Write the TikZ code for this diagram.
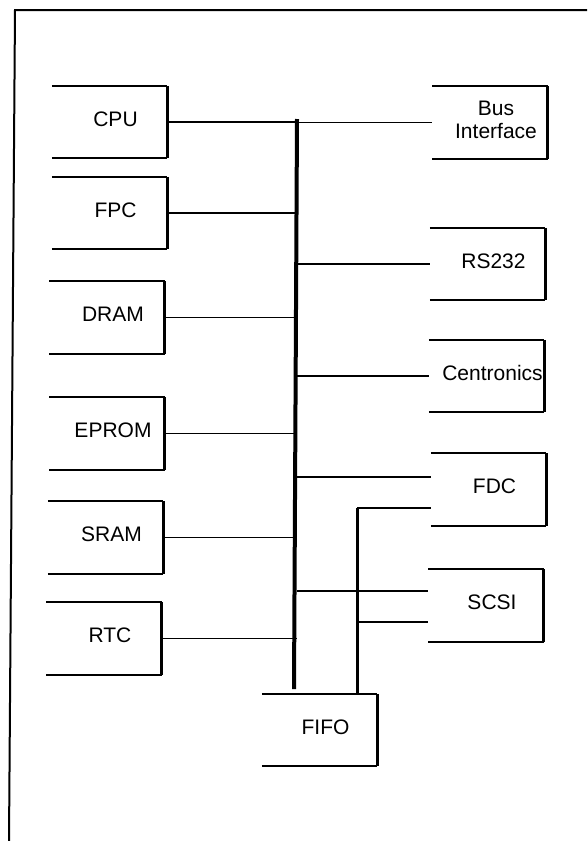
\documentclass[tikz,border=0pt]{standalone}
\usepackage{fontspec}
\setmainfont{Liberation Sans}
\begin{document}
\begin{tikzpicture}[x=1pt,y=-1pt,
  unit/.style={minimum width=115pt, minimum height=72pt, inner sep=0pt},
  boxtext/.style={font=\fontsize{21}{23}\selectfont, xshift=6pt, yshift=3pt, inner sep=0pt},
  wire/.style={line width=1.8pt},
  rim/.style={line width=2pt},
  busline/.style={line width=4pt}]
  \useasboundingbox (0,0) rectangle (587,841);
  % Frame
  \draw[rim] (9,841) -- (15,10) -- (587,10);
  % Left column
  \node[unit, label={[boxtext]center:CPU}] (cpu) at (109.5,122) {};
  \node[unit, label={[boxtext]center:FPC}] (fpc) at (109.5,213) {};
  \node[unit, label={[boxtext]center:DRAM}] (dram) at (107,317.5) {};
  \node[unit, label={[boxtext]center:EPROM}] (eprom) at (107,433.5) {};
  \node[unit, label={[boxtext]center:SRAM}] (sram) at (105.5,537.5) {};
  \node[unit, label={[boxtext]center:RTC}] (rtc) at (104,638.5) {};
  % Right column
  \node[unit, label={[boxtext, align=center]center:Bus\\Interface}] (busif) at (490,122.5) {};
  \node[unit, label={[boxtext]center:RS232}] (rs) at (487.5,264) {};
  \node[unit, label={[boxtext]center:Centronics}] (cent) at (486.5,376) {};
  \node[unit, label={[boxtext]center:FDC}] (fdc) at (488.5,489.5) {};
  \node[unit, label={[boxtext]center:SCSI}] (scsi) at (486,605.5) {};
  \node[unit, label={[boxtext]center:FIFO}] (fifo) at (319.5,730) {};
  % Open boxes: top, right and bottom sides only
  \foreach \b in {cpu,fpc,dram,eprom,sram,rtc,busif,rs,cent,fdc,scsi,fifo} {
    \draw[rim] (\b.north west) -- (\b.north east);
    \draw[rim] (\b.south west) -- (\b.south east);
    \draw[line width=3pt] (\b.north east) -- (\b.south east);
  }
  % Bus
  \coordinate (bustop) at (297,119);
  \coordinate (busend) at (294,689);
  \draw[busline] (bustop) -- (busend);
  \foreach \b in {cpu,fpc,dram,eprom,sram,rtc}
    \draw[wire] (\b.east) -- (\b.east -| bustop);
  \foreach \b in {busif,rs,cent}
    \draw[wire] (\b.west -| bustop) -- (\b.west);
  \coordinate (fdcup) at ([yshift=12.5pt]fdc.west);
  \coordinate (fdclow) at ([yshift=-18.5pt]fdc.west);
  \coordinate (scsiup) at ([yshift=14.5pt]scsi.west);
  \coordinate (scsilow) at ([yshift=-16.5pt]scsi.west);
  \draw[wire] (fdcup -| bustop) -- (fdcup);
  \draw[wire] (scsiup -| bustop) -- (scsiup);
  % FIFO link
  \coordinate (fifotap) at ([xshift=37.5pt]fifo.north);
  \draw[line width=3pt] (fifotap) -- (fifotap |- fdclow);
  \draw[wire] (fifotap |- fdclow) -- (fdclow);
  \draw[wire] (fifotap |- scsilow) -- (scsilow);
\end{tikzpicture}
\end{document}
